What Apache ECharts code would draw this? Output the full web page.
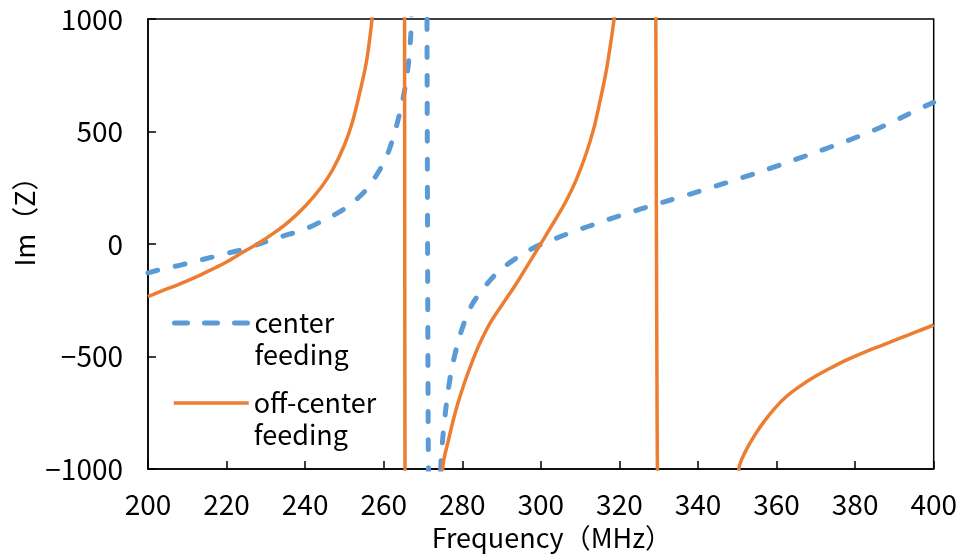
<!DOCTYPE html>
<html>
<head>
<meta charset="utf-8">
<script src="https://cdn.jsdelivr.net/npm/echarts@6/dist/echarts.min.js"></script>
<style>
  html, body { margin: 0; padding: 0; background: #fff; }
  #chart { width: 960px; height: 556px; }
</style>
</head>
<body>
<div id="chart"></div>
<script>
// Imaginary part of the input impedance vs. frequency for two feed positions.
// Values outside ±1000 are kept so the lines run off the plot and get clipped.

const xTicks = [200, 220, 240, 260, 280, 300, 320, 340, 360, 380, 400];
const yTicks = [-1000, -500, 0, 500, 1000];

const centerFreq = [
  200, 204, 208.5, 212.5, 216.9, 220.5, 224.6, 228, 231.3, 234.5, 238.1, 241.5,
  244.9, 248, 251, 253.5, 255.5, 257.3, 259, 260.7, 262, 263.2, 264.2, 264.9,
  265.6, 266.2, 266.7, 267.0, 267.3, 271.0, 271.05, 271.45, 271.5, 274.3, 274.6,
  275.5, 276.7, 278.0, 279.7, 281.8, 283.5, 286.9, 289.5, 292.8, 296, 299.6,
  303.5, 307.2, 311, 314.9, 318, 321.6, 325.5, 330, 336.9, 344.1, 351.3, 358.9,
  366.5, 373.7, 381, 388.1, 395.3, 400
];
const centerIm = [
  -128, -110, -93, -75, -56, -40, -22, -2, 18, 36, 55, 78,
  107, 135, 168, 205, 240, 284, 330, 388, 450, 521, 590, 645,
  712, 787, 880, 965, 1100, 1100, 1100, -1100, -1100, -1100, -960,
  -781, -617, -500, -390, -293, -241, -165, -118, -74, -38, -5,
  23, 48, 72, 94, 114, 134, 156, 180, 216, 255, 295, 339,
  386, 431, 479, 531, 592, 630
];

const offFreq = [
  200, 204, 208, 212, 216, 220, 224, 228, 232, 236, 240, 244, 247, 250, 252,
  254, 255.5, 256.5, 257.2, 257.5, 265.3, 265.35, 265.45, 265.5, 274.9, 275.0,
  276.5, 278.4, 280.5, 282.7, 284.5, 287.3, 291, 293.7, 296.5, 299.6, 303.4,
  306.4, 309, 311.5, 313.5, 315, 316.5, 317.5, 318.5, 319, 319.3, 329.25, 329.3,
  329.75, 329.8, 350.2, 350.4, 352, 354.7, 357, 359.7, 362.5, 365.7, 370, 374.2,
  378, 382.6, 387, 391.1, 395.5, 400
];
const offIm = [
  -234, -205, -178, -148, -115, -80, -38, 2, 48, 102, 168, 250, 330, 440, 540,
  680, 800, 920, 1030, 1100, 1100, 1100, -1100, -1100, -1100, -1000,
  -870, -737, -620, -515, -440, -345, -248, -178, -98, -10, 100,
  190, 285, 400, 515, 630, 755, 861, 980, 1060, 1100, 1100, 1100,
  -1100, -1100, -1100, -1000, -925, -843, -785, -727, -678, -635, -587, -547,
  -514, -479, -449, -421, -391, -360
];

const seriesNames = ['center feeding', 'off-center feeding'];
const blue = '#5B9BD5';
const orange = '#ED7D31';
const font = '"Noto Sans CJK JP", "Noto Sans", sans-serif';

function pairs(xs, ys) {
  return xs.map((x, i) => [x, ys[i]]);
}

const chart = echarts.init(document.getElementById('chart'), null, { renderer: 'canvas' });

// Two one-entry legends so each entry can sit at its own height. A blank first
// row keeps the name's first row level with the sample line.
const legendCommon = {
  orient: 'vertical',
  left: 167,
  itemWidth: 75,
  itemHeight: 12,
  itemGap: 0,
  selectedMode: false,
  itemStyle: { opacity: 0 },
  formatter: name => ' \n' + name.replace(' ', '\n'),
  textStyle: {
    fontFamily: font,
    fontSize: 27,
    color: '#000',
    lineHeight: 32
  }
};

chart.setOption({
  animation: false,
  backgroundColor: '#fff',
  textStyle: { fontFamily: font },
  grid: {
    left: 148, top: 19, right: 25, bottom: 87,
    show: true, borderColor: '#000', borderWidth: 1.5, backgroundColor: 'transparent'
  },
  legend: [
    Object.assign({}, legendCommon, {
      data: [seriesNames[0]], top: 270,
      lineStyle: { width: 5, type: [13, 17], cap: 'round' }
    }),
    Object.assign({}, legendCommon, {
      data: [seriesNames[1]], top: 350,
      lineStyle: { width: 3.5 }
    })
  ],
  graphic: [{
    type: 'text',
    x: 25,
    y: 215,
    rotation: Math.PI / 2,
    style: {
      text: 'Im（Z）',
      font: '27px ' + font,
      fill: '#000',
      align: 'center',
      verticalAlign: 'middle'
    }
  }],
  xAxis: {
    type: 'value',
    min: xTicks[0],
    max: xTicks[xTicks.length - 1],
    interval: xTicks[1] - xTicks[0],
    name: 'Frequency（MHz）',
    nameLocation: 'middle',
    nameGap: 55,
    nameTextStyle: { fontFamily: font, fontSize: 27, color: '#000', padding: [0, 0, 0, 22] },
    axisLine: { onZero: false, lineStyle: { color: '#000', width: 1.5 } },
    axisTick: { inside: true, length: 8, lineStyle: { color: '#000', width: 1.5 } },
    axisLabel: { margin: 21, fontFamily: font, fontSize: 28, color: '#000' },
    splitLine: { show: false }
  },
  yAxis: {
    type: 'value',
    min: yTicks[0],
    max: yTicks[yTicks.length - 1],
    interval: yTicks[1] - yTicks[0],
    axisLine: { onZero: false, lineStyle: { color: '#000', width: 1.5 } },
    axisTick: { inside: true, length: 8, lineStyle: { color: '#000', width: 1.5 } },
    axisLabel: { margin: 25, fontFamily: font, fontSize: 28, color: '#000',
      formatter: v => String(v).replace('-', '\u2212') },
    splitLine: { show: false }
  },
  series: [
    {
      name: seriesNames[0],
      type: 'line',
      data: pairs(centerFreq, centerIm),
      symbol: 'none',
      smooth: 0.35,
      clip: true,
      color: blue,
      lineStyle: { color: blue, width: 5, type: [10, 18], cap: 'round' },
      z: 3
    },
    {
      name: seriesNames[1],
      type: 'line',
      data: pairs(offFreq, offIm),
      symbol: 'none',
      smooth: 0.35,
      clip: true,
      color: orange,
      lineStyle: { color: orange, width: 3.5 },
      z: 4
    }
  ]
});
</script>
</body>
</html>
